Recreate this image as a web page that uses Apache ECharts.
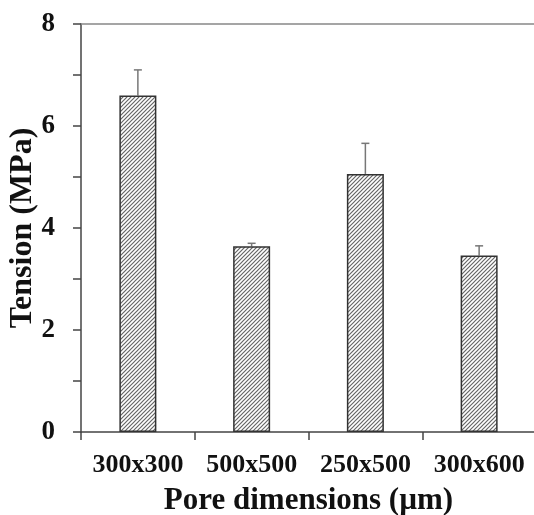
<!DOCTYPE html>
<html>
<head>
<meta charset="utf-8">
<script src="https://cdn.jsdelivr.net/npm/echarts@6/dist/echarts.min.js"></script>
<style>
  html, body { margin: 0; padding: 0; background: #fff; }
  #chart { width: 534px; height: 515px; }
</style>
</head>
<body>
<div id="chart"></div>
<script>
// data
const categories = ['300x300', '500x500', '250x500', '300x600'];
const tension = [6.6, 3.64, 5.06, 3.46];
const errors = [0.5, 0.06, 0.6, 0.19];
const yTicks = [0, 2, 4, 6, 8];

const serif = '"Liberation Serif", "Times New Roman", serif';

// diagonal hatch for the bars
function hatch() {
  const c = document.createElement('canvas');
  c.width = 4; c.height = 4;
  const g = c.getContext('2d');
  g.fillStyle = '#fff';
  g.fillRect(0, 0, 4, 4);
  g.strokeStyle = '#666';
  g.lineWidth = 1.2;
  g.beginPath();
  g.moveTo(-1, 5); g.lineTo(5, -1);
  g.moveTo(-1, 1); g.lineTo(1, -1);
  g.moveTo(3, 5); g.lineTo(5, 3);
  g.stroke();
  return c;
}

const chart = echarts.init(document.getElementById('chart'), null, { renderer: 'canvas' });

const option = {
  animation: false,
  grid: { left: 81, top: 24, right: -2, bottom: 83, outerBoundsMode: 'none', containLabel: false },
  xAxis: [{
    type: 'category',
    data: categories,
    axisLine: { lineStyle: { color: '#444', width: 1.5 } },
    axisTick: { show: true, interval: 0, length: 8, lineStyle: { color: '#444', width: 1.5 } },
    axisLabel: { interval: 0, color: '#111', fontFamily: serif, fontWeight: 'bold', fontSize: 26, margin: 20 },
    name: 'Pore dimensions (µm)',
    nameLocation: 'middle',
    nameGap: 53,
    nameMoveOverlap: false,
    nameTextStyle: { color: '#111', fontFamily: serif, fontWeight: 'bold', fontSize: 31 }
  }, {
    type: 'category',
    position: 'top',
    data: categories,
    axisLine: { show: true, lineStyle: { color: '#888', width: 1.5 } },
    axisTick: { show: false },
    axisLabel: { show: false }
  }],
  yAxis: {
    type: 'value',
    min: yTicks[0],
    max: yTicks[yTicks.length - 1],
    interval: 2,
    axisLine: { show: true, lineStyle: { color: '#444', width: 1.5 } },
    axisTick: { show: true, length: 8, lineStyle: { color: '#444', width: 1.5 } },
    minorTick: { show: true, splitNumber: 2, length: 8, lineStyle: { color: '#444', width: 1.5 } },
    splitLine: { show: false },
    axisLabel: { color: '#111', fontFamily: serif, fontWeight: 'bold', fontSize: 27, margin: 26 },
    name: 'Tension (MPa)',
    nameLocation: 'middle',
    nameGap: 42,
    nameMoveOverlap: false,
    nameTextStyle: { color: '#111', fontFamily: serif, fontWeight: 'bold', fontSize: 32 }
  },
  series: [{
    type: 'bar',
    data: tension,
    barWidth: 37,
    itemStyle: {
      color: { image: hatch(), repeat: 'repeat' },
      borderColor: '#333',
      borderWidth: 1.5
    },
    z: 2
  }, {
    type: 'custom',
    z: 1,
    data: tension.map((v, i) => [i, v, v + errors[i]]),
    renderItem: function (params, api) {
      const base = api.coord([api.value(0), api.value(1)]);
      const top = api.coord([api.value(0), api.value(2)]);
      const style = { stroke: '#777', lineWidth: 1.5 };
      return {
        type: 'group',
        children: [
          { type: 'line', shape: { x1: base[0], y1: base[1], x2: top[0], y2: top[1] }, style: style },
          { type: 'line', shape: { x1: top[0] - 4, y1: top[1], x2: top[0] + 4, y2: top[1] }, style: style }
        ]
      };
    }
  }]
};

chart.setOption(option);
</script>
</body>
</html>
